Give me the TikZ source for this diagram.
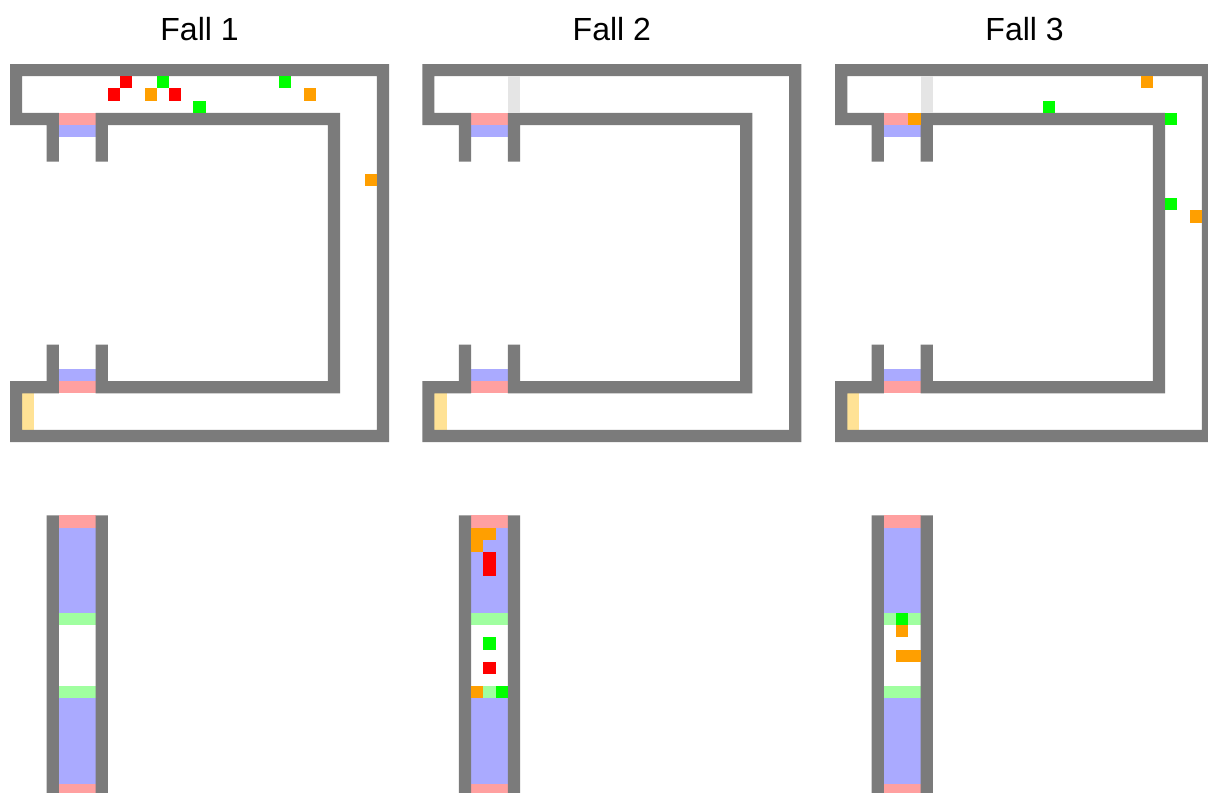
\documentclass[tikz,border=0pt]{standalone}
\usepackage{fontspec}
\setmainfont{Liberation Sans}
\definecolor{wallgray}{HTML}{7B7B7B}
\definecolor{doorpink}{HTML}{FFA0A0}
\definecolor{doorblue}{HTML}{AAAAFF}
\definecolor{lightgreen}{HTML}{A0FFA0}
\definecolor{startyellow}{HTML}{FFE295}
\definecolor{gategray}{HTML}{E5E5E5}
\definecolor{agentorange}{HTML}{FF9F00}
\begin{document}
\begin{tikzpicture}[
  x=12.23pt, y=-12.2pt,
  title/.style={font=\fontsize{32}{32}\selectfont, anchor=base, inner sep=0pt},
  wall/.style={fill=wallgray},
  pink/.style={fill=doorpink},
  blue/.style={fill=doorblue},
  lgreen/.style={fill=lightgreen},
  start/.style={fill=startyellow},
  gate/.style={fill=gategray},
  ored/.style={fill=red},
  ogreen/.style={fill=green},
  oorange/.style={fill=agentorange}]
\clip (-0.8177,-5.2459) rectangle (97.9583,59.7541);
\def\pa{0}\def\pb{33.71}\def\pc{67.46}
% --- parts shared by the three falls ---
\foreach \ox/\n in {\pa/1,\pb/2,\pc/3} {
  \begin{scope}[shift={(\ox,0)}]
    \node[title] (T\n) at (15.5,-1.95) {Fall \n};
    \fill[pink] (4,4) rectangle (7,5);
    \fill[blue] (4,5) rectangle (7,6);
    \fill[blue] (4,25) rectangle (7,26);
    \fill[pink] (4,26) rectangle (7,27);
    \fill[start] (1,27) rectangle (2,30);
    % lower lane
    \fill[pink] (4,37) rectangle (7,38);
    \fill[blue] (4,38) rectangle (7,45);
    \fill[lgreen] (4,45) rectangle (7,46);
    \fill[lgreen] (4,51) rectangle (7,52);
    \fill[blue] (4,52) rectangle (7,59);
    \fill[pink] (4,59) rectangle (7,60);
    % walls
    \fill[wall] (0,0) rectangle (31,1) (0,0) rectangle (1,5) (0,4) rectangle (4,5)
      (3,4) rectangle (4,8) (7,4) rectangle (8,8) (7,4) rectangle (27,5)
      (26,4) rectangle (27,27) (7,26) rectangle (27,27) (7,23) rectangle (8,27)
      (3,23) rectangle (4,27) (0,26) rectangle (4,27) (0,26) rectangle (1,31)
      (0,30) rectangle (31,31) (30,0) rectangle (31,31);
    \fill[wall] (3,37) rectangle (4,60) (7,37) rectangle (8,60);
  \end{scope}
}
% --- fall 1 ---
\begin{scope}[shift={(\pa,0)}]
  \foreach \x/\y in {9/1,8/2,13/2} \fill[ored] (\x,\y) rectangle ++(1,1);
  \foreach \x/\y in {12/1,15/3,22/1} \fill[ogreen] (\x,\y) rectangle ++(1,1);
  \foreach \x/\y in {11/2,24/2,29/9} \fill[oorange] (\x,\y) rectangle ++(1,1);
\end{scope}
% --- fall 2 ---
\begin{scope}[shift={(\pb,0)}]
  \fill[gate] (7,1) rectangle (8,4);
  \foreach \x/\y in {5/40,5/41,5/49} \fill[ored] (\x,\y) rectangle ++(1,1);
  \foreach \x/\y in {5/47,6/51} \fill[ogreen] (\x,\y) rectangle ++(1,1);
  \foreach \x/\y in {4/38,5/38,4/39,4/51} \fill[oorange] (\x,\y) rectangle ++(1,1);
\end{scope}
% --- fall 3 ---
\begin{scope}[shift={(\pc,0)}]
  \fill[gate] (7,1) rectangle (8,4);
  \foreach \x/\y in {17/3,27/4,27/11,5/45} \fill[ogreen] (\x,\y) rectangle ++(1,1);
  \foreach \x/\y in {25/1,6/4,29/12,5/46,5/48,6/48} \fill[oorange] (\x,\y) rectangle ++(1,1);
\end{scope}
\end{tikzpicture}
\end{document}
